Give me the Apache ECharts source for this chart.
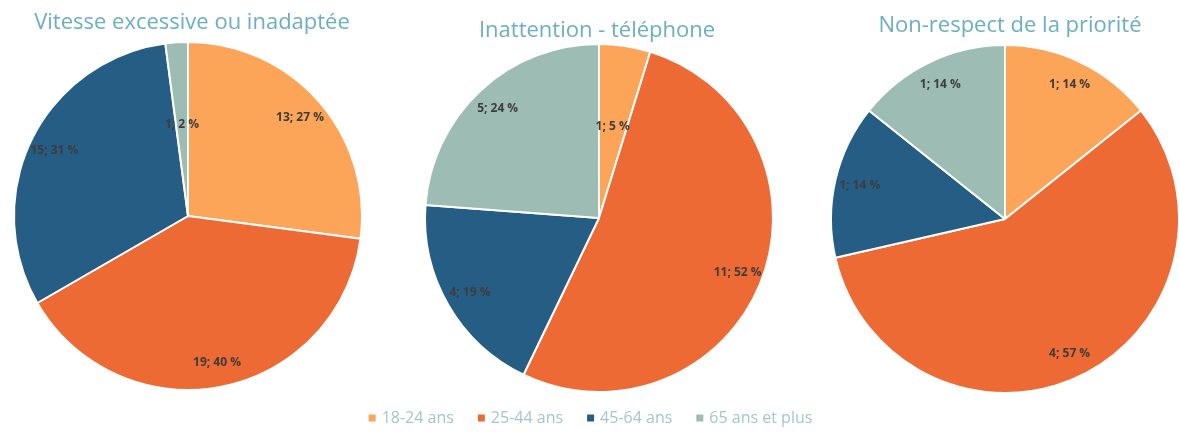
<!DOCTYPE html>
<html>
<head>
<meta charset="utf-8">
<script src="https://cdn.jsdelivr.net/npm/echarts@6/dist/echarts.min.js"></script>
<style>
  html, body { margin: 0; padding: 0; background: #fff; }
  #main { width: 1179px; height: 432px; }
</style>
</head>
<body>
<div id="main"></div>
<script>
// catégories d'âge (légende)
var ageGroups = ['18-24 ans', '25-44 ans', '45-64 ans', '65 ans et plus'];
// titres des trois camemberts
var titles = ['Vitesse excessive ou inadaptée', 'Inattention - téléphone', 'Non-respect de la priorité'];
// nombre d'accidents par tranche d'âge
var vitesse = [13, 19, 15, 1];
var inattention = [1, 11, 4, 5];
var priorite = [1, 4, 1, 1];

var colors = ['#fca457', '#ee6a35', '#265d84', '#9dbcb3'];
var centers = [[188, 216], [599, 218], [1005, 219]];
var titlePos = [[187, 7], [592, 15], [1005, 10]];
var R = 174;
var legendText = '#a3c6cb';

var myChart = echarts.init(document.getElementById('main'));

var allData = [vitesse, inattention, priorite];
var series = [];
var title = [];

var labelStyle = {
  position: 'inside',
  fontFamily: 'Open Sans',
  fontSize: 12,
  fontWeight: 'bold',
  color: '#3d3d3d'
};

allData.forEach(function (values, i) {
  var total = values.reduce(function (a, b) { return a + b }, 0);
  var data = values.map(function (v, k) {
    return { name: ageGroups[k], value: v };
  });
  var labelText = function (p) {
    return p.value + '; ' + Math.round(p.value / total * 100) + ' %';
  };
  var isSmall = function (v) { return v / total < 0.06 };

  title.push({
    text: titles[i],
    left: titlePos[i][0],
    top: titlePos[i][1],
    textAlign: 'center',
    textStyle: { fontFamily: 'Open Sans', fontSize: 22, fontWeight: 'normal', color: '#6aafc2' }
  });

  // les parts
  series.push({
    type: 'pie',
    center: centers[i],
    radius: [0, R],
    startAngle: 90,
    clockwise: true,
    silent: true,
    label: { show: false },
    labelLine: { show: false },
    itemStyle: { borderColor: '#fff', borderWidth: 2 },
    data: data
  });

  // étiquettes des grandes parts (près du bord)
  series.push({
    type: 'pie',
    center: centers[i],
    radius: [118, R],
    startAngle: 90,
    silent: true,
    legendHoverLink: false,
    itemStyle: { color: 'transparent' },
    labelLine: { show: false },
    data: data.map(function (d) {
      return { name: d.name, value: d.value, label: { show: !isSmall(d.value) } };
    }),
    label: Object.assign({ formatter: labelText }, labelStyle)
  });

  // étiquettes des petites parts (plus au centre)
  series.push({
    type: 'pie',
    center: centers[i],
    radius: [4, R],
    startAngle: 90,
    silent: true,
    legendHoverLink: false,
    itemStyle: { color: 'transparent' },
    labelLine: { show: false },
    data: data.map(function (d) {
      return { name: d.name, value: d.value, label: { show: isSmall(d.value) } };
    }),
    label: Object.assign({ formatter: labelText }, labelStyle)
  });
});

myChart.setOption({
  color: colors,
  animation: false,
  title: title,
  legend: {
    data: ageGroups.map(function (n, k) {
      return { name: n, itemStyle: { color: colors[k] }, textStyle: { color: legendText } };
    }),
    left: 'center',
    bottom: 1,
    itemWidth: 9,
    itemHeight: 9,
    itemGap: 22,
    icon: 'rect',
    textStyle: { fontFamily: 'Open Sans', fontSize: 16, color: legendText }
  },
  series: series
});
</script>
</body>
</html>
